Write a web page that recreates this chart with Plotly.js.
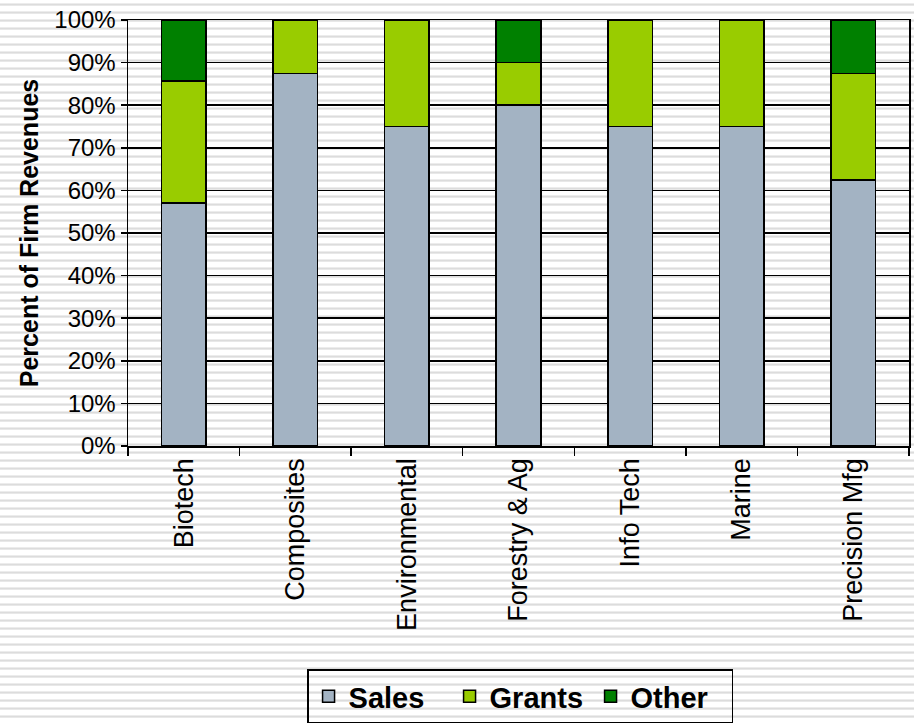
<!DOCTYPE html>
<html>
<head>
<meta charset="utf-8">
<script src="https://cdn.plot.ly/plotly-3.0.1.min.js"></script>
<style>
  html, body { margin: 0; padding: 0; }
  body {
    width: 914px; height: 723px; overflow: hidden;
    background: repeating-linear-gradient(to bottom,
      #ffffff 0px, #ffffff 3px,
      #ececec 3px, #ececec 4px,
      #dcdcdc 4px, #dcdcdc 5px,
      #e8e8e8 5px, #e8e8e8 6px,
      #ffffff 6px, #ffffff 8px);
  }
  #chart { width: 914px; height: 723px; }
</style>
</head>
<body>
<div id="chart"></div>
<script>
const categories = ["Biotech", "Composites", "Environmental", "Forestry & Ag", "Info Tech", "Marine", "Precision Mfg"];
const sales  = [57.1, 87.5, 75, 80, 75, 75, 62.5];
const grants = [28.6, 12.5, 25, 10, 25, 25, 25];
const other  = [14.3, 0, 0, 10, 0, 0, 12.5];
const yTickVals = [0, 10, 20, 30, 40, 50, 60, 70, 80, 90, 100];
const yTickText = ["0%", "10%", "20%", "30%", "40%", "50%", "60%", "70%", "80%", "90%", "100%"];

const line = { color: "#000000", width: 1.5 };
const traces = [
  { type: "bar", name: "Sales", x: categories, y: sales, marker: { color: "#A3B3C3", line: line } },
  { type: "bar", name: "Grants", x: categories, y: grants, marker: { color: "#99CC00", line: line } },
  { type: "bar", name: "Other", x: categories, y: other, marker: { color: "#008000", line: line } }
];

const layout = {
  width: 914, height: 723,
  paper_bgcolor: "rgba(0,0,0,0)",
  plot_bgcolor: "rgba(0,0,0,0)",
  barmode: "stack",
  bargap: 0.6,
  margin: { l: 128, r: 5, t: 20, b: 277, autoexpand: false },
  font: { family: "Liberation Sans, Arial, sans-serif", color: "#000000", size: 24 },
  showlegend: true,
  legend: {
    orientation: "h",
    xref: "container", yref: "container",
    x: 0.569, xanchor: "center",
    y: 0.074, yanchor: "top",
    bgcolor: "rgba(255,255,255,0)",
    bordercolor: "#000000", borderwidth: 1.5,
    font: { size: 29, weight: "bold", family: "Liberation Sans, Arial, sans-serif" },
    traceorder: "normal",
    itemwidth: 30,
    entrywidth: 96, entrywidthmode: "pixels"
  },
  xaxis: {
    type: "category",
    tickangle: -90,
    ticks: "outside", ticklen: 8, tickwidth: 1.5, tickcolor: "#000000",
    tickson: "boundaries",
    showline: true, linecolor: "#000000", linewidth: 1.5, mirror: true,
    showgrid: false,
    tickfont: { size: 27 }
  },
  yaxis: {
    range: [0, 100],
    tickvals: yTickVals, ticktext: yTickText,
    ticks: "outside", ticklen: 6, tickwidth: 1.5, tickcolor: "#000000",
    showline: true, linecolor: "#000000", linewidth: 1.5, mirror: true,
    showgrid: true, gridcolor: "#000000", gridwidth: 1.5,
    zeroline: false,
    tickfont: { size: 24 },
    title: { text: "Percent of Firm Revenues", font: { size: 25, weight: "bold" }, standoff: 8 }
  }
};

Plotly.newPlot("chart", traces, layout, { displayModeBar: false, staticPlot: true });
</script>
</body>
</html>
